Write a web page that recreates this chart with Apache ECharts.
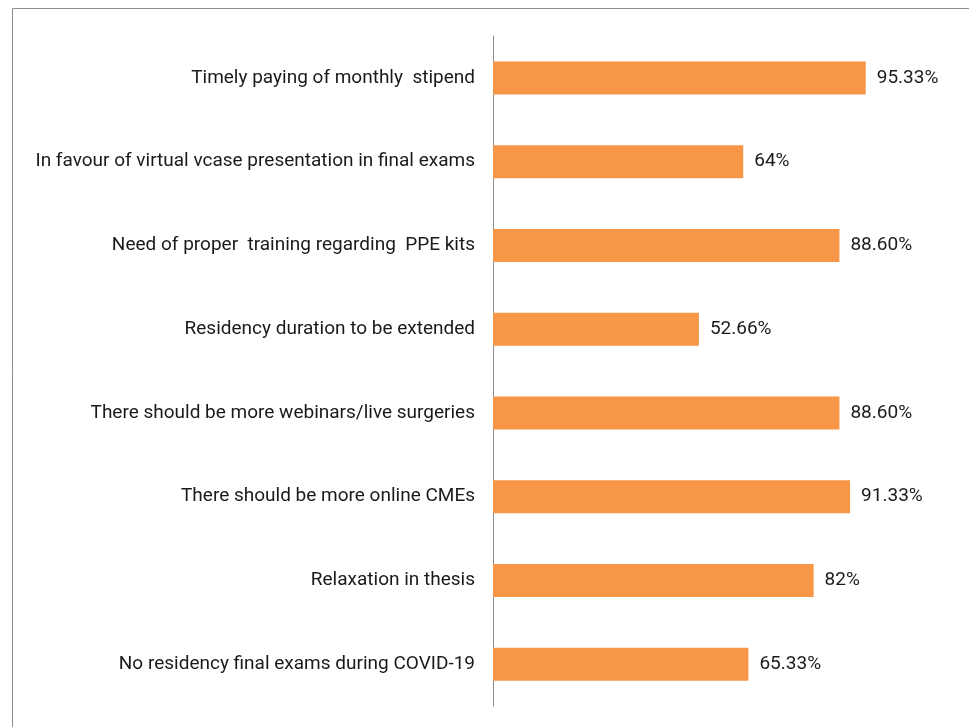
<!DOCTYPE html>
<html>
<head>
<meta charset="utf-8">
<script src="https://cdn.jsdelivr.net/npm/echarts@6/dist/echarts.min.js"></script>
<style>
html,body{margin:0;padding:0;background:#fff;}
#main{width:969px;height:727px;}
</style>
</head>
<body>
<div id="main"></div>
<script>
const categories = [
  "Timely paying of monthly  stipend",
  "In favour of virtual vcase presentation in final exams",
  "Need of proper  training regarding  PPE kits",
  "Residency duration to be extended",
  "There should be more webinars/live surgeries",
  "There should be more online CMEs",
  "Relaxation in thesis",
  "No residency final exams during COVID-19"
];
const values = [95.33, 64, 88.60, 52.66, 88.60, 91.33, 82, 65.33];
const valueLabels = ["95.33%", "64%", "88.60%", "52.66%", "88.60%", "91.33%", "82%", "65.33%"];

const chart = echarts.init(document.getElementById('main'));
const font = "'Roboto', sans-serif";
chart.setOption({
  animation: false,
  graphic: [{
    type: 'rect',
    shape: {x: 12.5, y: 8.5, width: 1000, height: 800},
    style: {fill: 'none', stroke: '#8c8c8c', lineWidth: 1},
    silent: true
  }],
  grid: {left: 493, right: 85, top: 36, bottom: 21, containLabel: false},
  xAxis: {
    type: 'value', min: 0, max: 100, show: false
  },
  yAxis: {
    type: 'category', data: categories, inverse: true,
    axisLine: {show: true, lineStyle: {color: '#8c8c8c', width: 1}},
    axisTick: {show: false},
    axisLabel: {color: '#1a1a1a', fontSize: 19, fontFamily: font, margin: 18}
  },
  series: [{
    type: 'bar',
    data: values,
    barWidth: 33,
    itemStyle: {color: '#F79646'},
    label: {
      show: true, position: 'right', distance: 11,
      color: '#1a1a1a', fontSize: 19, fontFamily: font,
      formatter: p => valueLabels[p.dataIndex]
    }
  }]
});
</script>
</body>
</html>
